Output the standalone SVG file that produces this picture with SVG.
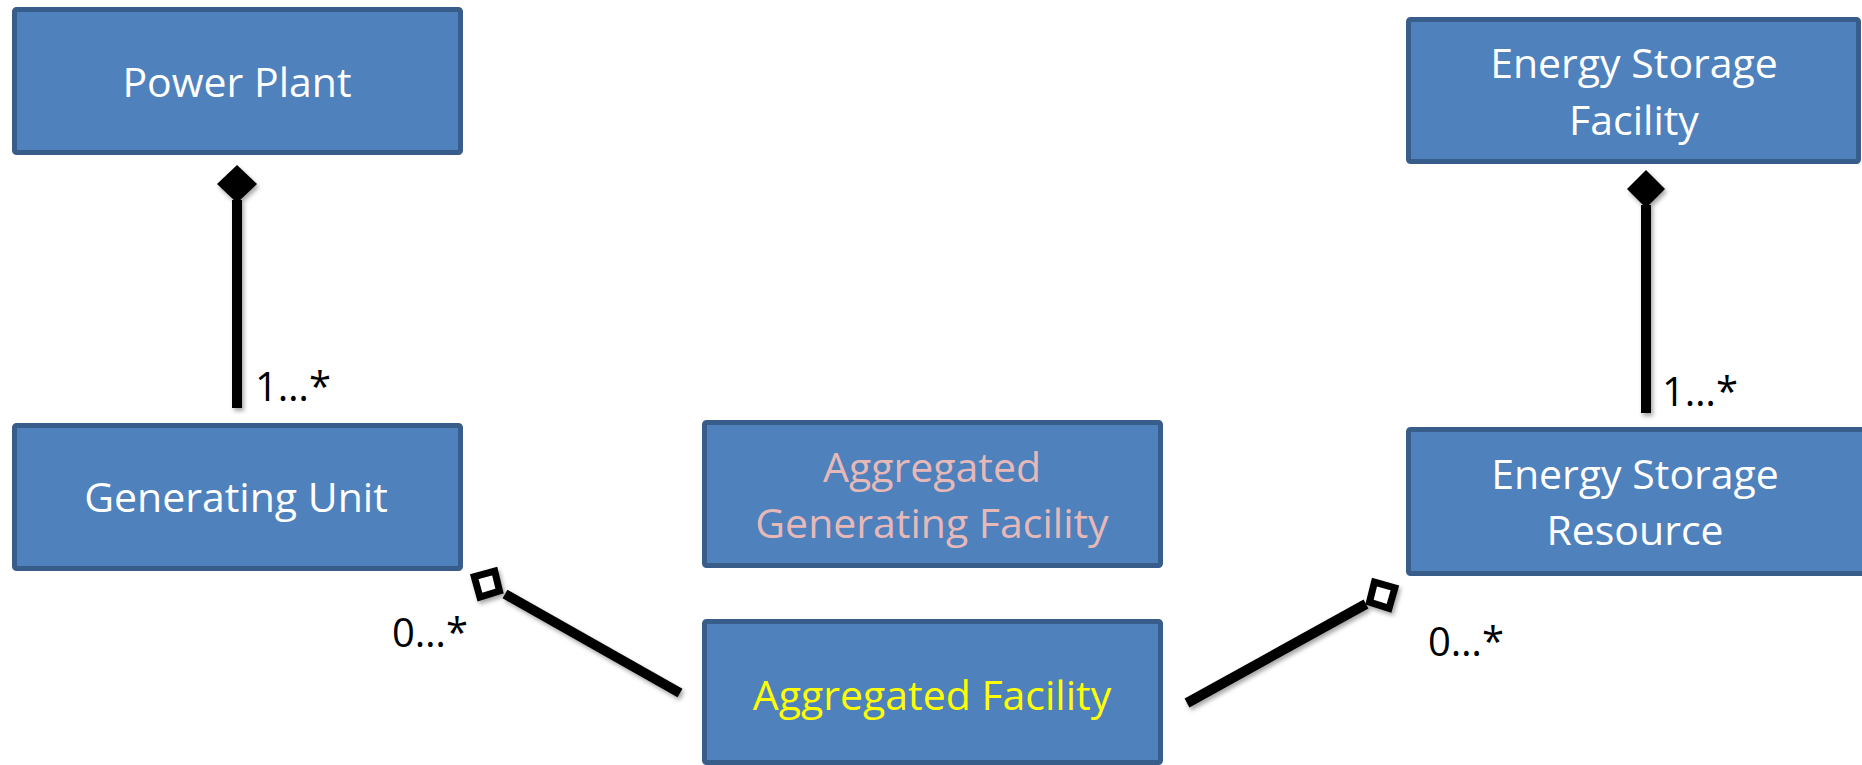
<svg xmlns="http://www.w3.org/2000/svg" width="1862" height="765" viewBox="0 0 1862 765">
<defs>
<style>
.box{fill:#4F81BD;stroke:#385D8A;stroke-width:5}
.t{font-family:"Open Sans","Noto Sans","Liberation Sans",sans-serif;font-size:41px;text-anchor:middle}
.w{fill:#FFFFFF}
.pink{fill:#E6B9B8}
.yel{fill:#FFFF00}
.lbl{font-family:"Open Sans","Noto Sans","Liberation Sans",sans-serif;font-size:40px;fill:#000}
.ln{stroke:#000;stroke-width:10;fill:none}
.fd{fill:#000}
.hd{fill:#fff;stroke:#000;stroke-width:7;stroke-linejoin:miter}
</style>
<filter id="sh" x="-20%" y="-20%" width="140%" height="140%">
<feDropShadow dx="2" dy="3" stdDeviation="2" flood-color="#000" flood-opacity="0.35"/>
</filter>
</defs>
<rect width="1862" height="765" fill="#FFFFFF"/>
<g id="connectors" filter="url(#sh)">
<g id="c-pp-gu">
<line class="ln" x1="237" y1="200" x2="237" y2="408"/>
<polygon class="fd" points="237,165 257,184 237,203 217,184"/>
</g>
<g id="c-esf-esr">
<line class="ln" x1="1646" y1="205" x2="1646" y2="413"/>
<polygon class="fd" points="1646,170 1665,189 1646,208 1627,189"/>
</g>
<g id="c-af-gu">
<line class="ln" x1="680" y1="693" x2="505" y2="594"/>
<polygon class="hd" transform="translate(503,593) rotate(209.5)" points="4,0 18,-15 33,0 18,15"/>
</g>
<g id="c-af-esr">
<line class="ln" x1="1187" y1="703" x2="1366" y2="604"/>
<polygon class="hd" transform="translate(1366,604) rotate(-29)" points="4,0 18,-15 33,0 18,15"/>
</g>
</g>
<g id="labels">
<text class="lbl" x="255" y="401">1…*</text>
<text class="lbl" x="1662" y="406">1…*</text>
<text class="lbl" x="392" y="647">0…*</text>
<text class="lbl" x="1428" y="656">0…*</text>
</g>
<g id="power-plant">
<rect class="box" x="14.5" y="9.5" width="446" height="143" rx="2"/>
<text class="t w" x="237" y="97">Power Plant</text>
</g>
<g id="energy-storage-facility">
<rect class="box" x="1408.5" y="19.5" width="450" height="142" rx="2"/>
<text class="t w" x="1634" y="78">Energy Storage</text>
<text class="t w" x="1634" y="135">Facility</text>
</g>
<g id="generating-unit">
<rect class="box" x="14.5" y="425.5" width="446" height="143" rx="2"/>
<text class="t w" x="236" y="512">Generating Unit</text>
</g>
<g id="energy-storage-resource">
<rect class="box" x="1408.5" y="429.5" width="470" height="144" rx="2"/>
<text class="t w" x="1635" y="489">Energy Storage</text>
<text class="t w" x="1635" y="545">Resource</text>
</g>
<g id="aggregated-generating-facility">
<rect class="box" x="704.5" y="422.5" width="456" height="143" rx="2"/>
<text class="t pink" x="932" y="482">Aggregated</text>
<text class="t pink" x="932" y="538">Generating Facility</text>
</g>
<g id="aggregated-facility">
<rect class="box" x="704.5" y="621.5" width="456" height="141" rx="2"/>
<text class="t yel" x="932" y="710">Aggregated Facility</text>
</g>
</svg>
